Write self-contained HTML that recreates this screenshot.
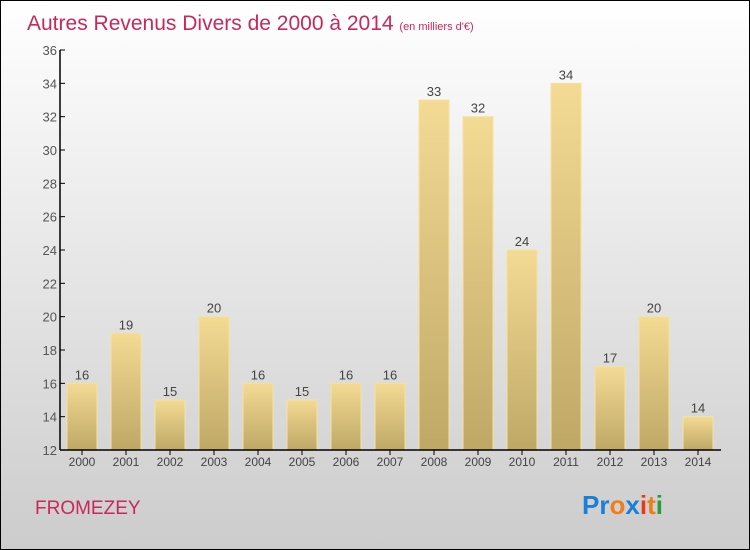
<!DOCTYPE html>
<html><head><meta charset="utf-8"><style>
body{margin:0}
svg{display:block}
text{font-family:"Liberation Sans",sans-serif}
</style></head><body>
<svg id="chart" width="750" height="550" viewBox="0 0 750 550">
<defs>
<linearGradient id="bg" x1="0" y1="0" x2="0" y2="1"><stop offset="0" stop-color="#ffffff"/><stop offset="1" stop-color="#cccccc"/></linearGradient>
<linearGradient id="bar" x1="0" y1="0" x2="0" y2="1"><stop offset="0" stop-color="#f3db94"/><stop offset="1" stop-color="#bfa766"/></linearGradient>
</defs>
<rect x="0.5" y="0.5" width="749" height="549" fill="url(#bg)" stroke="#000"/>
<text x="27" y="30" font-size="21" fill="#c8285a">Autres Revenus Divers de 2000 à 2014 <tspan font-size="11">(en milliers d'€)</tspan></text>
<g id="grid"></g>
<g id="bars"></g>
<line x1="60" y1="50" x2="60" y2="450" stroke="#000" stroke-width="1.5"/>
<line x1="60" y1="450" x2="721" y2="450" stroke="#000" stroke-width="1.5"/>
<g id="axes"></g>
<text x="35" y="514" font-size="19" fill="#c8285a">FROMEZEY</text>
<text x="582" y="514" font-size="26" font-weight="bold"><tspan fill="#1a7fd6">Pr</tspan><tspan fill="#ef7d1a">o</tspan><tspan fill="#1a7fd6">x</tspan><tspan fill="#e83a1a">i</tspan><tspan fill="#ef7d1a">t</tspan><tspan fill="#2a9a3a">i</tspan></text>
</svg>
<script>
const categories=["2000","2001","2002","2003","2004","2005","2006","2007","2008","2009","2010","2011","2012","2013","2014"];
const values=[16,19,15,20,16,15,16,16,33,32,24,34,17,20,14];
const yTicks=[12,14,16,18,20,22,24,26,28,30,32,34,36];
const NS="http://www.w3.org/2000/svg";
const yMin=12,yMax=36,yTop=50,yBot=450,xLeft=60,band=44,bw=30;
const yS=v=>yBot-(v-yMin)/(yMax-yMin)*(yBot-yTop);
const xc=i=>xLeft+band*i+band/2;
function mk(tag,attrs,parent){const e=document.createElementNS(NS,tag);for(const k in attrs)e.setAttribute(k,attrs[k]);document.getElementById(parent).appendChild(e);return e;}
yTicks.forEach(t=>{
  const l=mk('line',{x1:xLeft,x2:xLeft+5,y1:yS(t),y2:yS(t),stroke:'#000'},'axes');
  
  
  const tx=mk('text',{x:xLeft-3,y:yS(t)+5,'text-anchor':'end','font-size':13,fill:'#555'},'axes');
  tx.textContent=t;
  
  
});
categories.forEach((c,i)=>{
  const v=values[i];
  const r=mk('rect',{x:xc(i)-bw/2,y:yS(v),width:bw,height:yBot-yS(v),fill:'url(#bar)',stroke:'#f5e2a0','stroke-width':1},'bars');
  
  
  const vl=mk('text',{x:xc(i),y:yS(v)-4,'text-anchor':'middle','font-size':13,fill:'#444'},'bars');
  vl.textContent=v;
  
  
  const tk=mk('line',{x1:xc(i),x2:xc(i),y1:yBot,y2:yBot+5,stroke:'#000'},'axes');
  
  
  const xl=mk('text',{x:xc(i),y:yBot+16,'text-anchor':'middle','font-size':12,fill:'#444'},'axes');
  xl.textContent=c;
  
  
});
</script>
</body></html>
